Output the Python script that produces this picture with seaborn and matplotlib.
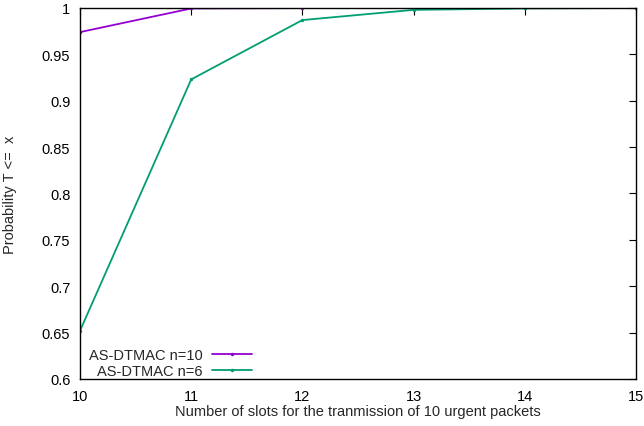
import matplotlib
matplotlib.use("Agg")
import matplotlib.pyplot as plt
import seaborn as sns
import pandas as pd
from matplotlib.ticker import FuncFormatter

slots = [10, 11, 12, 13, 14, 15]
n10 = [0.974, 0.9995, 0.9999, 1.0, 1.0, 1.0]
n6 = [0.652, 0.923, 0.987, 0.998, 0.9995, 1.0]
labels = ["AS-DTMAC n=10", "AS-DTMAC n=6"]
colors = ["#9400d3", "#009e73"]

df = pd.DataFrame({
    "x": slots * 2,
    "y": n10 + n6,
    "series": [labels[0]] * len(slots) + [labels[1]] * len(slots),
})

sns.set_style("white")
plt.rcParams["font.family"] = ["Liberation Sans", "DejaVu Sans"]

fs = 10.5
fig = plt.figure(figsize=(6.44, 4.27), dpi=100)
ax = fig.add_axes([80/644, 47/427, 556/644, 371/427])
sns.lineplot(data=df, x="x", y="y", hue="series", palette=colors, ax=ax,
             marker="o", markersize=2.5, markeredgewidth=0, linewidth=1.3)

ax.set_xlim(10, 15)
ax.set_ylim(0.6, 1.0)
ax.set_xticks(slots)
ax.set_yticks([0.6, 0.65, 0.7, 0.75, 0.8, 0.85, 0.9, 0.95, 1.0])
ax.yaxis.set_major_formatter(FuncFormatter(lambda v, p: f"{v:g}"))
ax.tick_params(direction="in", length=5, width=0.8, top=True, right=True,
               labelsize=fs, colors="black", pad=7)
for s in ax.spines.values():
    s.set_color("black")
    s.set_linewidth(1.0)
ax.set_xlabel("Number of slots for the tranmission of 10 urgent packets", fontsize=fs)
ax.set_ylabel("Probability T <=  x", fontsize=fs)
ax.yaxis.set_label_coords(-0.114, 0.5)
ax.xaxis.set_label_coords(0.5, -0.068)
ax.grid(False)

leg = ax.legend(loc="lower left", markerfirst=False, frameon=False, fontsize=fs,
                handlelength=2.8, handletextpad=0.6, borderaxespad=0.0,
                borderpad=0.2, labelspacing=0.15,
                bbox_to_anchor=(0.011, -0.006))
for t in leg.get_texts():
    t.set_ha("right")

fig.savefig("out.png", dpi=100)
